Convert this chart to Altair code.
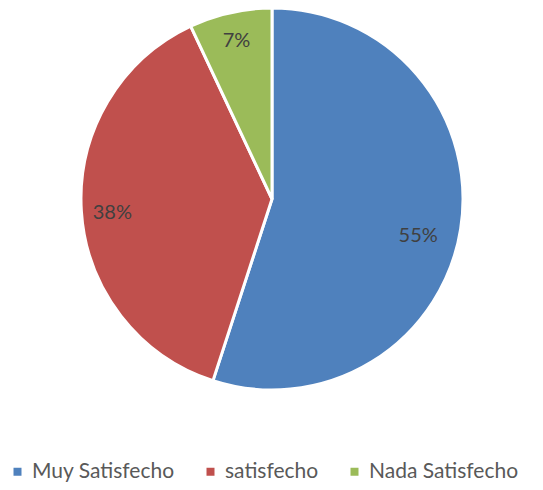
import altair as alt
import pandas as pd

categories = ["Muy Satisfecho", "satisfecho", "Nada Satisfecho"]
values = [55, 38, 7]
labels = ["55%", "38%", "7%"]
colors = ["#4F81BD", "#C0504D", "#9BBB59"]

df = pd.DataFrame({"cat": categories, "val": values, "lab": labels, "order": [0, 1, 2]})

base = alt.Chart(df).encode(
    theta=alt.Theta("val:Q", stack=True),
    order=alt.Order("order:Q"),
)

color = alt.Color(
    "cat:N",
    scale=alt.Scale(domain=categories, range=colors),
    sort=categories,
    legend=alt.Legend(
        title=None, orient="none", direction="horizontal",
        legendX=-1, legendY=453,
        symbolType="square", symbolSize=64, symbolStrokeWidth=0,
        labelFont="Lato", labelFontSize=21, labelColor="#595959",
        columnPadding=25, labelOffset=4, padding=0,
    ),
)

pie = base.mark_arc(outerRadius=191, stroke="white", strokeWidth=3).encode(
    color=color,
    x=alt.value(264), y=alt.value(191),
)

def lab(cat, radius, dx, dy):
    return base.mark_text(
        radius=radius, font="Lato", fontSize=20, color="#404040", dx=dx, dy=dy
    ).encode(
        text="lab:N", x=alt.value(264), y=alt.value(191),
        opacity=alt.condition(alt.datum.cat == cat, alt.value(1), alt.value(0)),
    )

chart = alt.layer(
    pie,
    lab("Muy Satisfecho", 150, -2, 14),
    lab("satisfecho", 160, 0, 4),
    lab("Nada Satisfecho", 163, 0, 1),
).properties(
    width=527, height=474, padding=0, autosize=alt.AutoSizeParams(type="none")
).configure_view(stroke=None)

chart.save("out.html", embed_options={"renderer": "svg", "actions": False})
